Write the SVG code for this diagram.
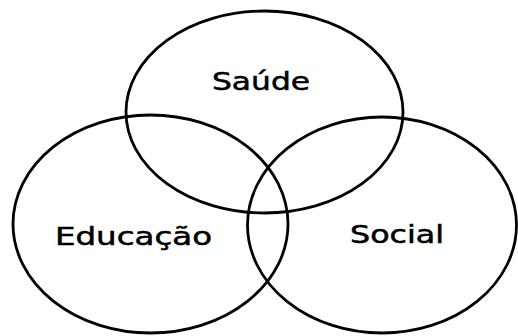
<svg xmlns="http://www.w3.org/2000/svg" width="518" height="336" viewBox="0 0 518 336">
<style>
.set{fill:none;stroke:#000;stroke-width:2.8}
.lbl{font-family:"DejaVu Sans",sans-serif;font-size:24px;fill:#000;stroke:#000;stroke-width:0.5}
</style>
<rect width="518" height="336" fill="#fff"/>
<g id="saude">
<ellipse class="set" cx="264.5" cy="112" rx="138.5" ry="101"/>
<text class="lbl" x="212" y="89.5" textLength="98" lengthAdjust="spacingAndGlyphs">Saúde</text>
</g>
<g id="educacao">
<ellipse class="set" cx="150.5" cy="224" rx="137.5" ry="109"/>
<text class="lbl" x="55" y="244.5" textLength="157" lengthAdjust="spacingAndGlyphs">Educação</text>
</g>
<g id="social">
<ellipse class="set" cx="382" cy="225" rx="134.5" ry="108"/>
<text class="lbl" x="350" y="242.5" textLength="94" lengthAdjust="spacingAndGlyphs">Social</text>
</g>
<g id="connectors"></g>
</svg>
